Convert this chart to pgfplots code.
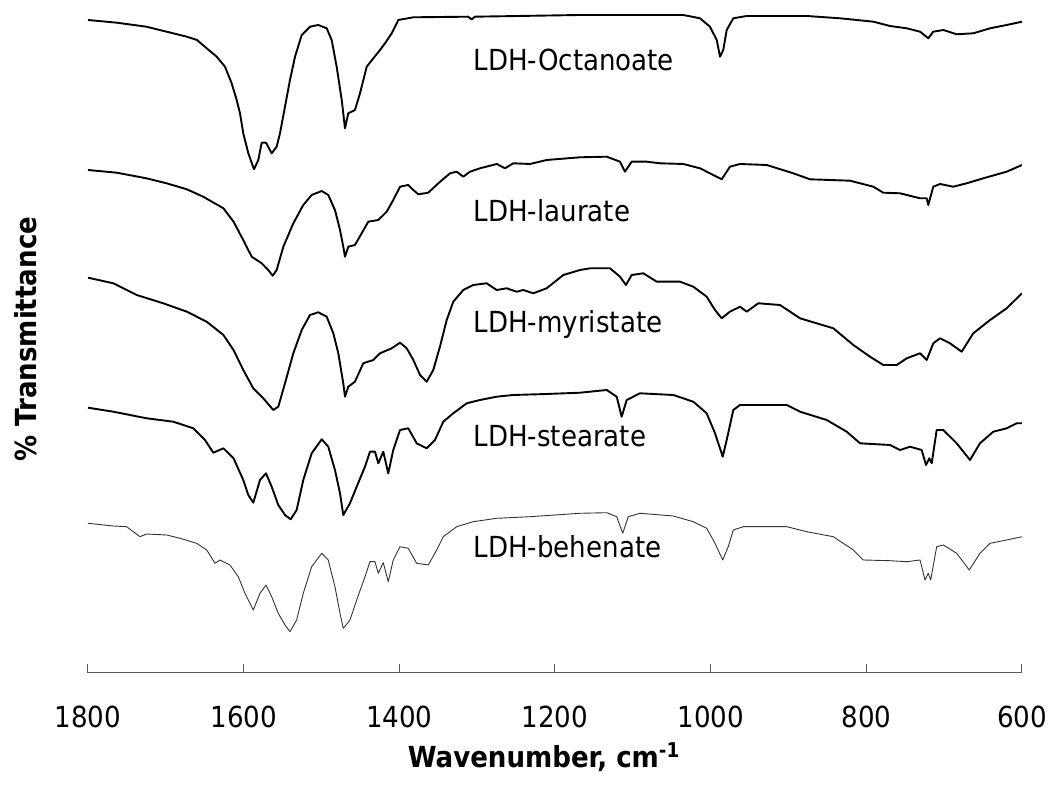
\documentclass[border=0pt]{standalone}
\usepackage{fontspec}
\setmainfont{DejaVu Sans Condensed}
\usepackage{pgfplots}
\pgfplotsset{compat=1.18}

\begin{document}
\begin{tikzpicture}[font=\fontsize{29}{34}\selectfont]
\path[use as bounding box] (0,0) rectangle (1052pt,787pt);
\begin{axis}[
  at={(88pt,114pt)}, anchor=south west,
  scale only axis, width=934pt, height=673pt,
  x dir=reverse, xmin=600, xmax=1800, ymin=0, ymax=673,
  axis x line=bottom, axis y line=left,
  x axis line style={-, draw=black!65, line width=1pt},
  y axis line style={draw=none},
  xtick={600,800,...,1800}, ytick=\empty, minor xtick={},
  tick align=inside, major tick length=9pt,
  xtick style={draw=black!65, line width=1pt},
  xticklabel style={anchor=base},
  xticklabel shift=55pt,
  /pgf/number format/1000 sep={},
  /pgf/number format/assume math mode=true,
  xlabel={\textbf{Wavenumber, cm\textsuperscript{-1}}},
  xlabel style={at={(axis description cs:0.488,-0.1397)}, anchor=base},
  ylabel={\textbf{\% Transmittance}},
  ylabel style={at={(axis description cs:-0.0664,0.496)}, anchor=center},
  every axis plot/.append style={line join=round},
]
% LDH-Octanoate
\addplot[black, line width=1.9pt] coordinates {
(1800,653) (1763,650.3) (1725,646.3) (1699,641.3) (1673,636.3) (1660,633)
(1647.5,624.7) (1634.6,616.3) (1624,606.3) (1615.4,589.7) (1609,573)
(1604.7,559.7) (1600.5,539.7) (1594,519.7) (1586.7,503.7) (1581.2,513)
(1576.8,530.3) (1571.3,530.3) (1564,519.7) (1557.6,526.3) (1553.3,539.7)
(1546.9,566.3) (1540.5,593) (1534,616.3) (1525.4,638) (1514.8,646.3)
(1504.1,648) (1493.3,644.7) (1486.9,633) (1480.5,606.3) (1474,573)
(1469.8,544.7) (1465.6,559.7) (1457,563) (1450.5,579.7) (1441.9,606.3)
(1433.4,614.7) (1424.8,623) (1418.4,629.7) (1409.8,639.7) (1401.3,653)
(1382,655.7) (1311.8,656.3) (1307,653.7) (1302.8,656.3) (1167.9,658)
(1035.2,658) (1013.7,654.7) (1000.9,646.3) (992.2,633) (988,616.3)
(983.8,623) (979.4,643) (970.9,654.7) (953.7,657) (876.6,657)
(833.8,654.7) (791,651.3) (769.6,647) (748.1,644.7) (731,641.3)
(720.4,634.7) (714,641.3) (701,643) (683.9,638.7) (662.6,639.7)
(641,644.7) (619.7,648) (600,651.3)
};
% LDH-laurate
\addplot[black, line width=1.9pt] coordinates {
(1800,503) (1763,500.3) (1725,494.7) (1699,489.7) (1673,483.7) (1652,476.3)
(1626,464.7) (1613,451.3) (1600.5,433) (1589.7,416.3) (1576.8,409.7)
(1568.4,403) (1562.7,397.3) (1557.6,403) (1549,426.3) (1536.2,449.7)
(1523.4,468) (1512.6,478) (1499.7,482) (1491.3,478) (1482.7,463)
(1476.2,443) (1472,426.3) (1469.8,416.3) (1465.6,426.3) (1457,428)
(1448.4,439.7) (1439.9,451.3) (1427,453) (1416.2,461.3) (1407.8,473)
(1399.1,486.3) (1388.5,488) (1382,483) (1375.6,478.7) (1362.8,480.3)
(1349.9,489.7) (1334.9,499.7) (1326.3,501.3) (1317.8,496.3) (1309.2,501.3)
(1296.4,504.7) (1274.9,509) (1264.2,504.7) (1253.6,509.7) (1232.1,509)
(1210.7,513) (1167.9,515.7) (1133.6,516.3) (1116.5,511.3) (1110.1,501.3)
(1101.5,511.3) (1082.2,511.3) (1065.1,509.7) (1035.2,509) (1013.7,504.7)
(996.6,498) (985.8,493.7) (975.2,506.3) (962.3,509) (928,508)
(893.8,499.7) (872.4,493.7) (821,492.3) (791,486.3) (778.2,480.3)
(756.7,479.7) (731,474.7) (722.4,474.7) (720.4,468) (714,486.3)
(705.4,489) (688.3,486.3) (671.1,489.7) (649.7,494.7) (619.7,501.3)
(600,508)
};
% LDH-myristate
\addplot[black, line width=1.9pt] coordinates {
(1800,395.3) (1767.5,389.7) (1737.4,378) (1703.3,369.7) (1673,361.3)
(1647.5,351.3) (1626,338) (1613,323) (1600.5,303) (1587.6,284.7)
(1574.8,274.7) (1561.9,263) (1555.5,266.3) (1546.9,289.7) (1536.2,319.7)
(1525.4,343) (1514.8,358) (1504.1,360.7) (1493.3,356.3) (1484.8,339.7)
(1478.4,319.7) (1472,289.7) (1469.8,276.3) (1465.6,286.3) (1457,291.3)
(1446.3,309.7) (1433.4,313) (1424.8,319.7) (1409.8,324.7) (1399.1,330.3)
(1390.5,324.7) (1382,313) (1373.4,298) (1364.8,291.3) (1356.4,303)
(1347.8,326.3) (1339.1,353) (1330.7,371.3) (1317.8,383) (1305,388)
(1287.8,389.7) (1274.9,383) (1262.1,384.7) (1249.2,381.3) (1240.7,383)
(1227.9,379.7) (1210.7,384.7) (1189.3,398) (1167.9,403) (1155,404.7)
(1129.3,404.7) (1116.5,396.3) (1108.8,388) (1101.5,398) (1086.5,399.7)
(1069.3,391.3) (1039.4,391.3) (1022.3,386.3) (1005.1,376.3) (994.4,363)
(985.8,354.7) (975.2,361.3) (962.3,366.3) (953.7,361.3) (938.8,369.7)
(910.9,368) (885.2,354.7) (863.8,349.7) (842.4,344.7) (816.7,328)
(795.3,316.3) (778.2,308) (761,308) (748.1,314.7) (731,319.7)
(722.4,313) (714,329.7) (705.4,334.7) (692.5,329.7) (677.5,321.3)
(662.6,339.7) (641,353) (619.7,364.7) (600,379.7)
};
% LDH-stearate
\addplot[black, line width=1.9pt] coordinates {
(1800,265.3) (1767.5,261.3) (1724.6,254.7) (1690.4,251.3) (1664.7,244.7)
(1649.7,233) (1639,220.3) (1626,224.7) (1613,214.7) (1600.5,193)
(1594,178) (1587.6,170.3) (1579,193) (1571.3,199.7) (1564,186.3)
(1555.5,168) (1546.9,158) (1539.6,153.7) (1531.9,163) (1523.4,193)
(1512.6,219.7) (1499.7,233.7) (1491.3,226.3) (1482.7,203) (1476.2,179.7)
(1472,158) (1463.4,169.7) (1454.8,186.3) (1444.1,206.3) (1437.7,221.3)
(1431.3,221.3) (1427,209.7) (1420.6,221.3) (1414.2,199.7) (1407.8,223)
(1399.1,243) (1388.5,244.7) (1377.7,229.7) (1364.8,224.7) (1354.2,233)
(1343.5,251.3) (1330.7,259.7) (1313.5,269.7) (1296.4,273) (1274.9,276.3)
(1253.6,278) (1210.7,279) (1167.9,280.3) (1133.6,283) (1120.7,276.3)
(1114.3,256.3) (1107.9,273) (1090.8,279.7) (1048,278) (1022.3,271.3)
(1005.1,259.7) (994.4,239.7) (984.5,216.3) (979.4,233) (970.9,263)
(962.3,268) (902.3,268) (885.2,261.3) (850.9,253) (825.2,241.3)
(808.1,229.7) (769.6,228) (756.7,223) (743.9,226.3) (728.9,223)
(723.3,208) (719.1,214.7) (716,209.7) (709.6,243) (701.1,243)
(683.9,229.7) (666.8,213) (654,229.7) (636.9,241.3) (619.7,244.7)
(606.8,249.7) (600,249.7)
};
% LDH-behenate
\addplot[black!80, line width=0.9pt] coordinates {
(1800,149.7) (1767.5,147) (1750.3,146.3) (1733.2,136.3) (1724.6,139)
(1699,138) (1681.8,134.7) (1660.3,129.7) (1647.5,123) (1636.8,109.7)
(1630.4,113) (1617.6,108) (1606.9,96.3) (1598.3,79.7) (1587.6,63)
(1579,79.7) (1571.3,88) (1564,76.3) (1555.5,59.7) (1546.9,48)
(1540.5,41.3) (1531.9,53) (1523.4,79.7) (1512.6,106.3) (1499.7,119.7)
(1491.3,113) (1482.7,86.3) (1476.2,59.7) (1472,44.7) (1463.4,53)
(1454.8,73) (1444.1,96.3) (1437.7,111.3) (1431.3,111.3) (1427,99.7)
(1420.6,110.3) (1414.2,91.3) (1407.8,113) (1399.1,126.3) (1388.5,124.7)
(1377.7,109.7) (1362.8,108) (1352,123) (1343.5,136.3) (1326.3,146.3)
(1305,151.3) (1274.9,154.7) (1232.1,156.3) (1167.9,159.7) (1133.6,160.3)
(1120.7,156.3) (1113,139.7) (1105.8,156.3) (1090.8,159.7) (1048,157)
(1022.3,151.3) (1005.1,144.7) (994.4,129.7) (984.5,113) (977.4,126.3)
(970.9,143) (958.1,146.3) (902.3,146.3) (876.6,141.3) (842.4,136.3)
(816.7,123) (803.9,113) (769.6,112.3) (748.1,111.3) (731,113)
(724.6,93) (720.4,99.7) (717.3,93) (709.6,126.3) (701.1,128)
(683.9,119.7) (667.7,103) (654,119.7) (641,129.7) (619.7,133)
(600,136.3)
};
\node[anchor=base west] at (axis cs:1309,602) {LDH-Octanoate};
\node[anchor=base west] at (axis cs:1309,451) {LDH-laurate};
\node[anchor=base west] at (axis cs:1309,340) {LDH-myristate};
\node[anchor=base west] at (axis cs:1309,226) {LDH-stearate};
\node[anchor=base west] at (axis cs:1309,115) {LDH-behenate};
\end{axis}
\end{tikzpicture}
\end{document}
